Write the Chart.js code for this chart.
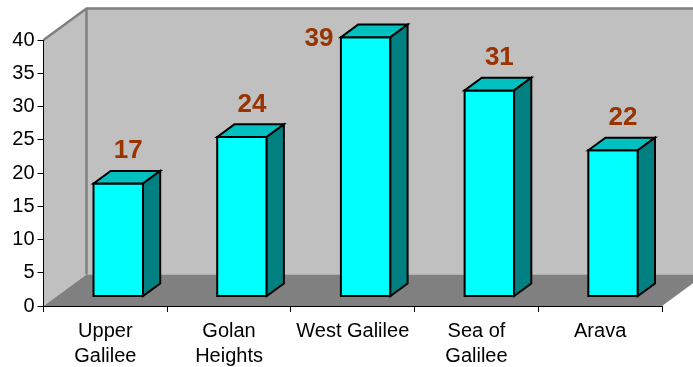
<!DOCTYPE html>
<html>
<head>
<meta charset="utf-8">
<script src="https://cdn.jsdelivr.net/npm/chart.js@4.4.1/dist/chart.umd.min.js"></script>
<style>
  html, body { margin: 0; padding: 0; background: #fff; }
</style>
</head>
<body>
<canvas id="chart" width="693" height="367"></canvas>
<script>
const categories = [['Upper', 'Galilee'], ['Golan', 'Heights'], 'West Galilee', ['Sea of', 'Galilee'], 'Arava'];
const values = [17, 24, 39, 31, 22];
const yMin = 0, yMax = 40, yStep = 5;

const FONT = "'Liberation Sans', Arial, sans-serif";
// depth of the 3D box (px), bars sit in the middle 40% of it
const DX = 43, DY = -31.5;
const FRONT_GAP = 0.3, BAR_DEPTH = 0.4;

const poly = (ctx, pts, fill, stroke, lw) => {
  ctx.beginPath();
  pts.forEach(([x, y], i) => i ? ctx.lineTo(x, y) : ctx.moveTo(x, y));
  ctx.closePath();
  if (fill) { ctx.fillStyle = fill; ctx.fill(); }
  if (stroke) { ctx.strokeStyle = stroke; ctx.lineWidth = lw || 1; ctx.stroke(); }
};

const box3d = {
  id: 'box3d',
  beforeDraw(chart) {
    const { ctx, chartArea: a } = chart;
    ctx.save();
    // left wall, back wall, floor
    poly(ctx, [[a.left, a.top], [a.left + DX, a.top + DY], [a.left + DX, a.bottom + DY], [a.left, a.bottom]], '#c0c0c0');
    poly(ctx, [[a.left + DX, a.top + DY], [a.right + DX, a.top + DY], [a.right + DX, a.bottom + DY], [a.left + DX, a.bottom + DY]], '#c0c0c0');
    poly(ctx, [[a.left, a.bottom], [a.right, a.bottom], [a.right + DX, a.bottom + DY], [a.left + DX, a.bottom + DY]], '#808080');
    // wall edges
    ctx.strokeStyle = '#808080';
    ctx.lineWidth = 2.5;
    ctx.beginPath();
    ctx.moveTo(a.left, a.top);
    ctx.lineTo(a.left + DX, a.top + DY);
    ctx.lineTo(a.right + DX, a.top + DY);
    ctx.moveTo(a.left + DX, a.top + DY);
    ctx.lineTo(a.left + DX, a.bottom + DY);
    ctx.stroke();
    ctx.restore();
  },
  afterDatasetsDraw(chart) {
    const { ctx, chartArea: a } = chart;
    const meta = chart.getDatasetMeta(0);
    const fx = DX * FRONT_GAP, fy = DY * FRONT_GAP;
    const bx = DX * BAR_DEPTH, by = DY * BAR_DEPTH;
    ctx.save();
    ctx.lineJoin = 'miter';
    meta.data.forEach((bar, i) => {
      const x0 = bar.x - bar.width / 2 + fx, x1 = x0 + bar.width;
      const yt = bar.y + fy, yb = bar.base + fy;
      poly(ctx, [[x0, yt], [x1, yt], [x1, yb], [x0, yb]], '#00ffff', '#000', 2);
      poly(ctx, [[x0, yt], [x0 + bx, yt + by], [x1 + bx, yt + by], [x1, yt]], '#00c0c0', '#000', 2);
      poly(ctx, [[x1, yt], [x1 + bx, yt + by], [x1 + bx, yb + by], [x1, yb]], '#008080', '#000', 2);

      // value label above the bar, moved beside it when it would leave the box
      let tx = bar.x + fx + 10, ty = bar.y - 42;
      if (ty - 12 < a.top + DY) { tx = x0 - 22; ty = yt + 2; }
      ctx.fillStyle = '#993300';
      ctx.font = `bold 26px ${FONT}`;
      ctx.textAlign = 'center';
      ctx.textBaseline = 'middle';
      ctx.fillText(String(values[i]), tx, ty);
    });
    ctx.restore();
  }
};

new Chart(document.getElementById('chart'), {
  type: 'bar',
  data: {
    labels: categories,
    datasets: [{
      data: values,
      backgroundColor: 'rgba(0,0,0,0)',
      borderWidth: 0,
      categoryPercentage: 1,
      barPercentage: 0.4
    }]
  },
  options: {
    responsive: false,
    animation: false,
    events: [],
    layout: { padding: { left: 0, top: 40, right: 31, bottom: 0 } },
    plugins: { legend: { display: false }, tooltip: { enabled: false } },
    scales: {
      x: {
        grid: { display: true, drawOnChartArea: false, tickLength: 6, tickColor: '#000', offset: true },
        border: { display: true, color: '#000', width: 1 },
        ticks: { color: '#000', padding: 7, maxRotation: 0, autoSkip: false, font: { family: FONT, size: 20, lineHeight: 1.25 } },
        afterFit: (s) => { s.height = 61; }
      },
      y: {
        min: yMin, max: yMax,
        grid: { display: true, drawOnChartArea: false, tickLength: 6, tickColor: '#000' },
        border: { display: true, color: '#000', width: 1 },
        ticks: { stepSize: yStep, color: '#000', padding: 3, font: { family: FONT, size: 20 } },
        afterFit: (s) => { s.width = 43.5; }
      }
    }
  },
  plugins: [box3d]
});
</script>
</body>
</html>
